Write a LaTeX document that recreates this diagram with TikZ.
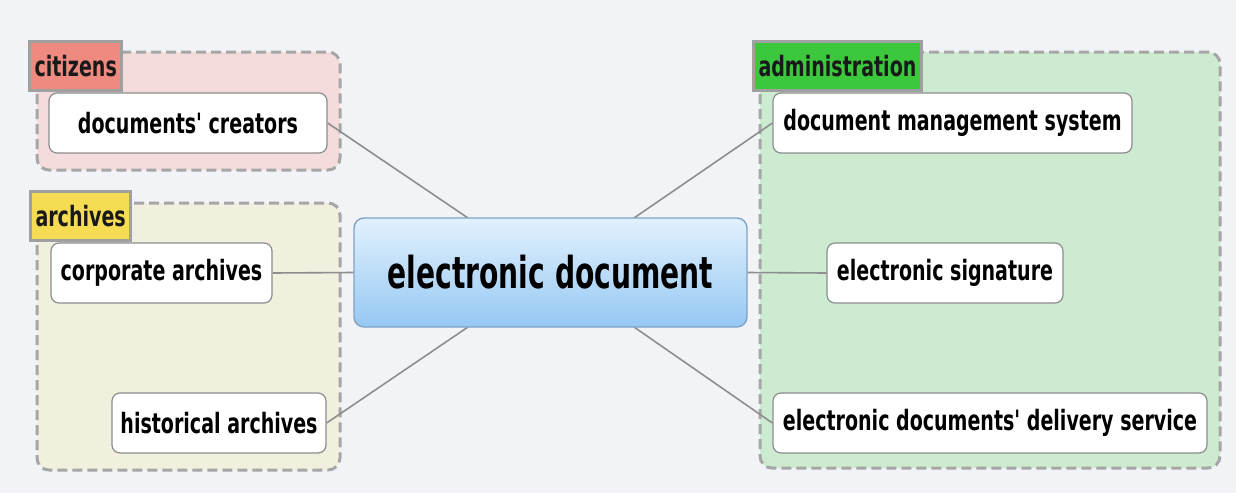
\documentclass[tikz,border=0pt]{standalone}
\usepackage{fontspec}
\newfontfamily\nf{DejaVu Sans}[FakeStretch=0.68]
\newfontfamily\nfc{DejaVu Sans}[FakeStretch=0.64]
\pgfdeclarelayer{bg}
\pgfdeclarelayer{edges}
\pgfsetlayers{bg,edges,main}
\definecolor{pagebg}{HTML}{F2F3F7}
\definecolor{grpline}{HTML}{A6A6A6}
\definecolor{citfill}{HTML}{F4DCDD}
\definecolor{citlab}{HTML}{EF8A80}
\definecolor{arcfill}{HTML}{F1EFDD}
\definecolor{arclab}{HTML}{F6DC52}
\definecolor{admfill}{HTML}{CDEBD0}
\definecolor{admlab}{HTML}{3CC83C}
\definecolor{labline}{HTML}{A0A0A0}
\definecolor{boxline}{HTML}{8C8C8C}
\definecolor{cenline}{HTML}{7EA3C4}
\definecolor{centop}{HTML}{E2F1FD}
\definecolor{cenbot}{HTML}{95C8F3}
\definecolor{edgecol}{HTML}{8E8E8E}
\tikzset{
  grp/.style={draw=grpline, line width=3pt, dash pattern=on 10pt off 5pt, rounded corners=12pt},
  grplab/.style={draw=labline, line width=3pt, inner xsep=5pt, inner ysep=0pt, anchor=north west,
     minimum height=49pt, font=\nf\bfseries\fontsize{28}{30}\selectfont, text=black!90},
  child/.style={draw=boxline, line width=1.2pt, fill=white, rounded corners=8pt,
     minimum height=60pt, inner sep=0pt, font=\nf\bfseries\fontsize{28}{30}\selectfont},
  central/.style={draw=cenline, line width=1.4pt, rounded corners=10pt, top color=centop,
     bottom color=cenbot, minimum width=393pt, minimum height=109pt, inner sep=0pt,
     font=\nfc\bfseries\fontsize{44}{48}\selectfont},
  link/.style={draw=edgecol, line width=1.6pt}
}
\begin{document}
\begin{tikzpicture}[x=1pt, y=-1pt]
\useasboundingbox (0,0) rectangle (1236,493);
\begin{pgfonlayer}{bg}
  \fill[pagebg] (0,0) rectangle (1236,493);
  \path[grp, fill=citfill] (37,52) rectangle (340,170);
  \path[grp, fill=arcfill] (37,203) rectangle (340,470);
  \path[grp, fill=admfill] (760,52) rectangle (1220,468);
\end{pgfonlayer}
% group labels
\node[grplab, fill=citlab] (labcit) at (28,40) {citizens};
\node[grplab, fill=arclab] (labarc) at (29,190) {archives};
\node[grplab, fill=admlab] (labadm) at (752,40) {administration};
% nodes
\node[central] (cen) at (550.5,272.5) {electronic document};
\node[child, minimum width=278pt] (creators) at (188,123) {documents' creators};
\node[child, minimum width=221pt] (corporate) at (161.5,273) {corporate archives};
\node[child, minimum width=214pt] (historical) at (219,423) {historical archives};
\node[child, minimum width=359pt] (dms) at (952.5,123) {document management system};
\node[child, minimum width=236pt] (signature) at (945,273) {electronic signature};
\node[child, minimum width=434pt] (delivery) at (990,423) {electronic documents' delivery service};
% attachment points on the central node
\coordinate (tl) at (468,218);
\coordinate (tr) at (634,218);
\coordinate (bl) at (468,327);
\coordinate (br) at (634,327);
\begin{pgfonlayer}{edges}
  \draw[link] (creators.east) -- (tl);
  \draw[link] (dms.west) -- (tr);
  \draw[link] (corporate.east) -- (cen.west);
  \draw[link] (signature.west) -- (cen.east);
  \draw[link] (historical.east) -- (bl);
  \draw[link] (delivery.west) -- (br);
\end{pgfonlayer}
\end{tikzpicture}
\end{document}
